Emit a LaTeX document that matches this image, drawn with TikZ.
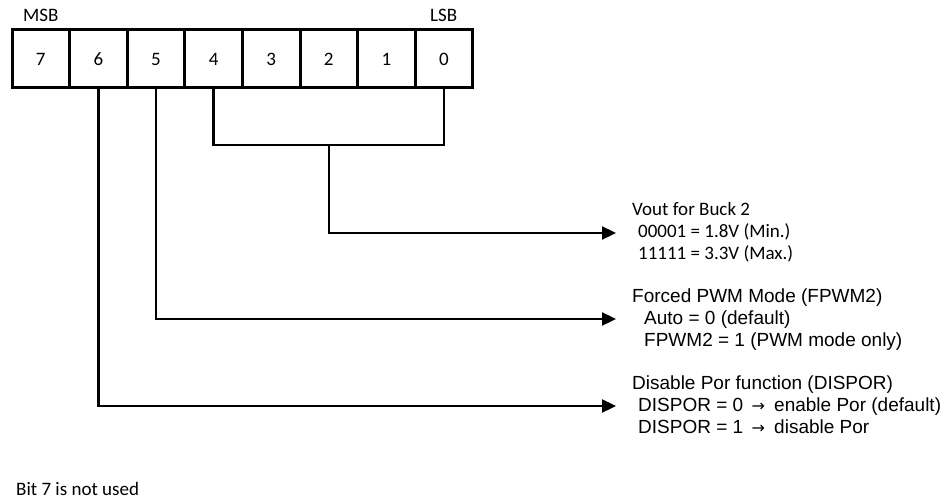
\documentclass[tikz,border=0pt]{standalone}
\usepackage{fontspec}
\setmainfont{Carlito}
\newfontfamily\calfont{Carlito}
\newfontfamily\arifont{Liberation Sans}
\newfontfamily\symfont{DejaVu Sans}
\usetikzlibrary{arrows.meta}
\tikzset{
  cell/.style={draw=black, line width=3pt, minimum width=57.6pt, minimum height=58pt,
    inner sep=0pt, font=\calfont\fontsize{19}{22}\selectfont},
  conn/.style={draw=black, line width=2.3pt},
  arr/.style={conn, -{Triangle[length=14pt,width=13pt]}},
  ctext/.style={anchor=base west, inner sep=0pt, font=\calfont\fontsize{19}{22}\selectfont},
  atext/.style={anchor=base west, inner sep=0pt, font=\arifont\fontsize{19}{22}\selectfont},
}
\newcommand{\rarr}{\hspace{3pt}{\symfont\fontsize{16}{22}\selectfont →}\hspace{4pt}}
\begin{document}
\begin{tikzpicture}[x=1pt, y=-1pt]
\useasboundingbox (0,0) rectangle (947,500);
% register cells
\foreach \b [count=\i from 0] in {7,6,5,4,3,2,1,0} {
  \node[cell] (b\b) at ({12+57.6*(\i+0.5)}, 59) {\b};
}
\node[ctext] (msb) at (23,21.5) {MSB};
\node[ctext] (lsb) at (430,21.5) {LSB};
% junction for bits 4..0
\coordinate (j1) at (328.8,145);
\coordinate (j1l) at (b4.south |- j1);
\coordinate (j1r) at (b0.south |- j1);
\draw[conn] (b4.south) -- (j1l) -- (j1r) -- (b0.south);
% arrow ends
\coordinate (e1) at (616,233);
\coordinate (e2) at (616,319);
\coordinate (e3) at (616,406);
\draw[arr] (j1) |- (e1);
\draw[arr] (b5.south) |- (e2);
\draw[arr] (b6.south) |- (e3);
% block 1
\node[ctext] (v1) at (632,215) {Vout for Buck 2};
\node[ctext] (v2) at (638,237) {00001 = 1.8V (Min.)};
\node[ctext] (v3) at (638,259) {11111 = 3.3V (Max.)};
% block 2
\node[atext] (f1) at (632,302) {Forced PWM Mode (FPWM2)};
\node[atext] (f2) at (644,324) {Auto = 0 (default)};
\node[atext] (f3) at (644,346) {FPWM2 = 1 (PWM mode only)};
% block 3
\node[atext] (d1) at (632,389) {Disable Por function (DISPOR)};
\node[atext] (d2) at (638,411) {DISPOR = 0 \rarr{} enable Por (default)};
\node[atext] (d3) at (638,433) {DISPOR = 1 \rarr{} disable Por};
% note
\node[ctext] (note) at (16,495.5) {Bit 7 is not used};
\end{tikzpicture}
\end{document}
